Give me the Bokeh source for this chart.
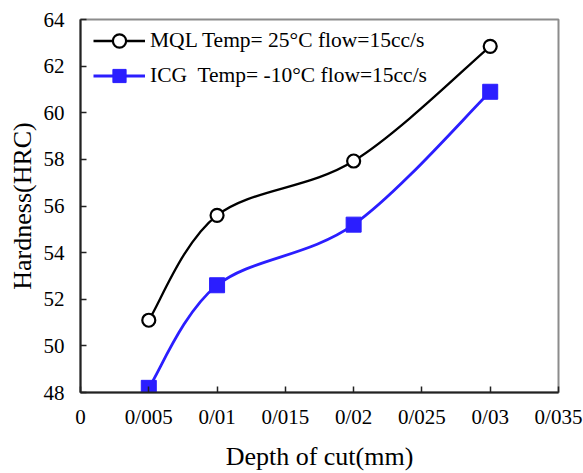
import numpy as np
from bokeh.plotting import figure
from bokeh.models import FixedTicker, Legend, LegendItem, ColumnDataSource
from bokeh.embed import file_html
from bokeh.resources import INLINE

# ---- data ----
depth = [0.005, 0.01, 0.02, 0.03]
mql = [51.1, 55.6, 57.93, 62.85]
icg = [48.2, 52.6, 55.2, 60.9]
x_ticks = [0, 0.005, 0.01, 0.015, 0.02, 0.025, 0.03, 0.035]
x_tick_labels = ["0", "0/005", "0/01", "0/015", "0/02", "0/025", "0/03", "0/035"]
y_ticks = [48, 50, 52, 54, 56, 58, 60, 62, 64]
mql_label = "MQL Temp= 25°C flow=15cc/s"
icg_label = "ICG  Temp= -10°C flow=15cc/s"

FONT = "Liberation Serif"
BLUE = "#2B1EFF"

p = figure(width=583, height=473, output_backend="svg", toolbar_location=None,
           x_range=(0, 0.035), y_range=(48, 64),
           min_border_left=80, min_border_right=25, min_border_top=19, min_border_bottom=80)
p.background_fill_color = "white"
p.border_fill_color = "white"
p.grid.visible = False
p.outline_line_color = "#8c8c8c"
p.outline_line_width = 2

p.xaxis.ticker = FixedTicker(ticks=x_ticks)
p.xaxis.major_label_overrides = {t: l for t, l in zip(x_ticks, x_tick_labels)}
p.yaxis.ticker = FixedTicker(ticks=y_ticks)

for ax in (p.xaxis[0], p.yaxis[0]):
    ax.axis_line_color = "#222222"
    ax.axis_line_width = 2
    ax.major_tick_line_color = "#222222"
    ax.major_tick_line_width = 1.5
    ax.major_tick_in = 6
    ax.major_tick_out = 0
    ax.minor_tick_line_color = None
    ax.major_label_text_font = FONT
    ax.major_label_text_font_size = "21px"
    ax.major_label_text_color = "black"
    ax.axis_label_text_font = FONT
    ax.axis_label_text_font_size = "26px"
    ax.axis_label_text_font_style = "normal"
    ax.axis_label_text_color = "black"

p.xaxis.axis_label = "Depth of cut(mm)"
p.yaxis.axis_label = "Hardness(HRC)"
p.xaxis.major_label_standoff = 12
p.xaxis.axis_label_standoff = 10
p.yaxis.major_label_standoff = 16
p.yaxis.axis_label_standoff = 4


def smooth_segments(xs, ys):
    xs = np.asarray(xs, float)
    ys = np.asarray(ys, float)
    n = len(xs)
    xe = np.concatenate([[xs[0]], xs, [xs[-1]]])
    ye = np.concatenate([[ys[0]], ys, [ys[-1]]])
    x0, y0, x1, y1, cx0, cy0, cx1, cy1 = ([] for _ in range(8))
    for i in range(n - 1):
        j = i + 1
        x0.append(xe[j]); y0.append(ye[j])
        x1.append(xe[j + 1]); y1.append(ye[j + 1])
        cx0.append(xe[j] + (xe[j + 1] - xe[j - 1]) / 6)
        cy0.append(ye[j] + (ye[j + 1] - ye[j - 1]) / 6)
        cx1.append(xe[j + 1] - (xe[j + 2] - xe[j]) / 6)
        cy1.append(ye[j + 1] - (ye[j + 2] - ye[j]) / 6)
    return ColumnDataSource(dict(x0=x0, y0=y0, x1=x1, y1=y1,
                                 cx0=cx0, cy0=cy0, cx1=cx1, cy1=cy1))


mql_line = p.bezier(x0="x0", y0="y0", x1="x1", y1="y1", cx0="cx0", cy0="cy0", cx1="cx1", cy1="cy1",
                    source=smooth_segments(depth, mql), line_color="black", line_width=2.3)
icg_line = p.bezier(x0="x0", y0="y0", x1="x1", y1="y1", cx0="cx0", cy0="cy0", cx1="cx1", cy1="cy1",
                    source=smooth_segments(depth, icg), line_color=BLUE, line_width=2.8)

mql_pts = p.scatter(depth, mql, marker="circle", size=13, fill_color="white",
                    line_color="black", line_width=2.2)
icg_pts = p.scatter(depth, icg, marker="square", size=15, fill_color=BLUE,
                    line_color=BLUE, line_width=1)

legend = Legend(items=[
    LegendItem(label=mql_label, renderers=[mql_line, mql_pts]),
    LegendItem(label=icg_label, renderers=[icg_line, icg_pts]),
], location=(13, 300))
legend.border_line_color = None
legend.background_fill_alpha = 0
legend.margin = 0
legend.padding = 0
legend.spacing = 2
legend.glyph_width = 52
legend.glyph_height = 33
legend.label_height = 33
legend.label_standoff = 5
legend.label_text_font = FONT
legend.label_text_font_size = "21.5px"
legend.label_text_color = "black"
p.add_layout(legend, "center")

open("out.html", "w").write(file_html(p, INLINE))
